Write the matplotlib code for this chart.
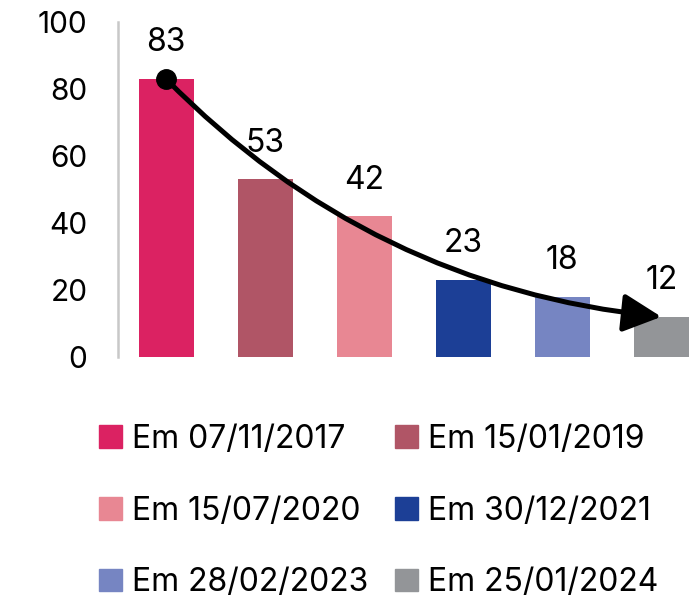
import matplotlib.pyplot as plt
from matplotlib.patches import Patch

plt.rcParams['font.family'] = ['Inter', 'DejaVu Sans']

# data
labels = ["Em 07/11/2017", "Em 15/01/2019", "Em 15/07/2020",
          "Em 30/12/2021", "Em 28/02/2023", "Em 25/01/2024"]
values = [83, 53, 42, 23, 18, 12]
colors = ["#DB2262", "#B05566", "#E88793", "#1C3F96", "#7685C2", "#939598"]
yticks = [0, 20, 40, 60, 80, 100]

fig = plt.figure(figsize=(7, 6.02), dpi=100)
ax = fig.add_axes([118 / 700, 1 - 357 / 602, 1 - 118 / 700, (357 - 22) / 602])

x = list(range(len(values)))
ax.bar(x, values, width=0.556, color=colors)

for xi, v in zip(x, values):
    ax.annotate(str(v), (xi, v), xytext=(0, 26), textcoords="offset points",
                ha="center", va="center", fontsize=23)

# curved trend arrow from first to last bar
ax.annotate("", xy=(x[-1], values[-1]), xytext=(x[0], values[0]),
            arrowprops=dict(arrowstyle="-|>,head_length=0.9,head_width=0.45",
                            connectionstyle="arc3,rad=0.18",
                            color="black", lw=3.6, mutation_scale=26,
                            shrinkA=0, shrinkB=0))
ax.plot(x[0], values[0], "o", color="black", markersize=14)

ax.set_xlim(-0.485, 5.39)
ax.set_ylim(0, 100)
ax.set_yticks(yticks)
ax.set_xticks([])
ax.tick_params(axis="y", length=0, pad=22, labelsize=21.5)
for s in ["top", "right", "bottom"]:
    ax.spines[s].set_visible(False)
ax.spines["left"].set_color("#c8c8c8")
ax.spines["left"].set_linewidth(1.8)

# legend fills column by column, so reorder to read row by row
order = [0, 2, 4, 1, 3, 5]
handles = [Patch(color=colors[i]) for i in order]
fig.legend(handles, [labels[i] for i in order], ncol=2, loc="upper left",
           bbox_to_anchor=(99 / 700, 1 - 424 / 602), frameon=False,
           fontsize=23, borderpad=0, borderaxespad=0,
           handlelength=0.72, handleheight=0.72, handletextpad=0.31,
           columnspacing=0.85, labelspacing=1.27)

fig.savefig("out.png", dpi=100)
